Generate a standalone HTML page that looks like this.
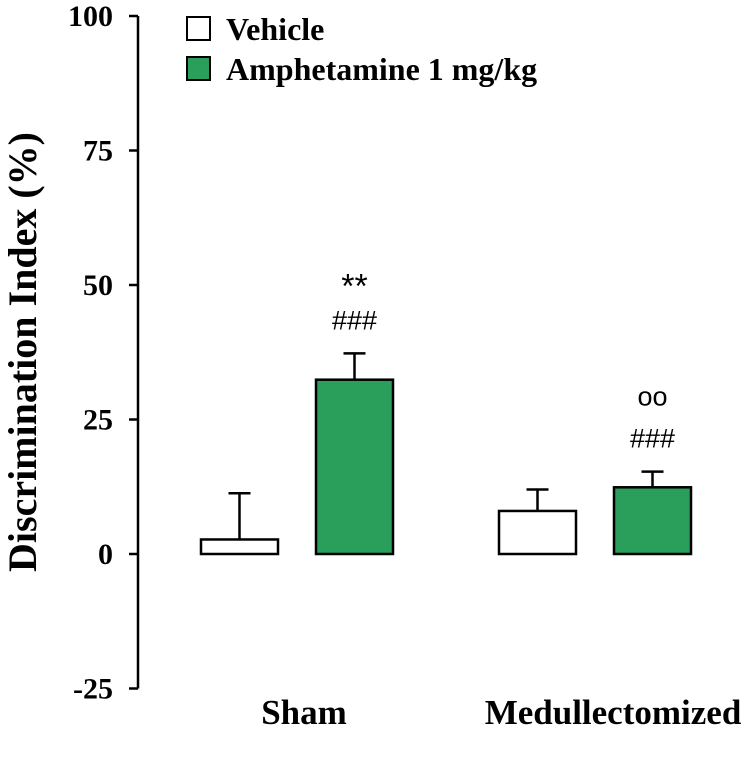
<!DOCTYPE html>
<html><head><meta charset="utf-8"><style>
body{margin:0;background:#fff}
text{font-family:"Liberation Serif",serif;font-weight:bold;fill:#000}
text.ann{font-family:"Liberation Sans",sans-serif;font-weight:normal}
</style></head><body>
<svg id="chart" width="752" height="754" viewBox="0 0 752 754" xmlns="http://www.w3.org/2000/svg"></svg>
<script>
const groups=["Sham","Medullectomized"];
const vehicleVals=[2.7,8.0];
const vehicleErr=[8.6,4.0];
const amphVals=[32.4,12.4];
const amphErr=[4.9,2.9];
const ticks=[100,75,50,25,0,-25];
const amphAnnot=[["**","###"],["oo","###"]];
const NS="http://www.w3.org/2000/svg";
const svg=document.getElementById('chart');
const y=v=>554-v*5.38;
const groupX=[239,537];
const labelX=[304,613];
const barW=77, gap=38;
function el(t,a,p){const e=document.createElementNS(NS,t);for(const k in a)e.setAttribute(k,a[k]);(p||svg).appendChild(e);return e;}
const axis=el('line',{x1:138,y1:y(100),x2:138,y2:y(-25),stroke:'#000','stroke-width':2.5});


ticks.forEach(t=>{
 const l=el('line',{x1:129,y1:y(t),x2:138,y2:y(t),stroke:'#000','stroke-width':2.5});
 
 
 const tx=el('text',{x:113,y:y(t)+10,'text-anchor':'end','font-size':30});
 tx.textContent=t;
 
 
});
const yt=el('text',{transform:'translate(36,352) rotate(-90)','text-anchor':'middle','font-size':40});
yt.textContent='Discrimination Index (%)';


function bar(x,v,e,fill,name){
 const ex=x+barW/2;
 const el1=el('line',{x1:ex,y1:y(v),x2:ex,y2:y(v+e),stroke:'#000','stroke-width':2.5});
 
 
 const c=el('line',{x1:ex-11,y1:y(v+e),x2:ex+11,y2:y(v+e),stroke:'#000','stroke-width':2.5});
 
 
 const r=el('rect',{x:x,y:Math.min(y(v),y(0)),width:barW,height:Math.abs(y(0)-y(v)),fill:fill,stroke:'#000','stroke-width':2.5});
 
 
}
groups.forEach((g,i)=>{
 const vx=groupX[i]-38, ax=vx+barW+gap;
 bar(vx,vehicleVals[i],vehicleErr[i],'#fff','bar-vehicle-'+i);
 bar(ax,amphVals[i],amphErr[i],'#2a9f5c','bar-amphetamine-'+i);
 const top=y(amphVals[i]+amphErr[i]);
 const a2=el('text',{class:'ann',x:ax+barW/2,y:top-24,'text-anchor':'middle','font-size':27});
 a2.textContent=amphAnnot[i][1];
 
 
 const a1=el('text',{class:'ann',x:ax+barW/2,y:top-(i==0?56:66),'text-anchor':'middle','font-size':i==0?34:27});
 a1.textContent=amphAnnot[i][0];
 
 
 const gl=el('text',{x:labelX[i],y:724,'text-anchor':'middle','font-size':35});
 gl.textContent=g;
 
 
});
[['Vehicle','#fff',17],['Amphetamine 1 mg/kg','#2a9f5c',57]].forEach(([t,f,yy])=>{
 const r=el('rect',{x:187,y:yy,width:23,height:23,fill:f,stroke:'#000','stroke-width':2});
 
 
 const tx=el('text',{x:226,y:yy+23,'font-size':32});
 tx.textContent=t;
 
 
});
</script>
</body></html>
